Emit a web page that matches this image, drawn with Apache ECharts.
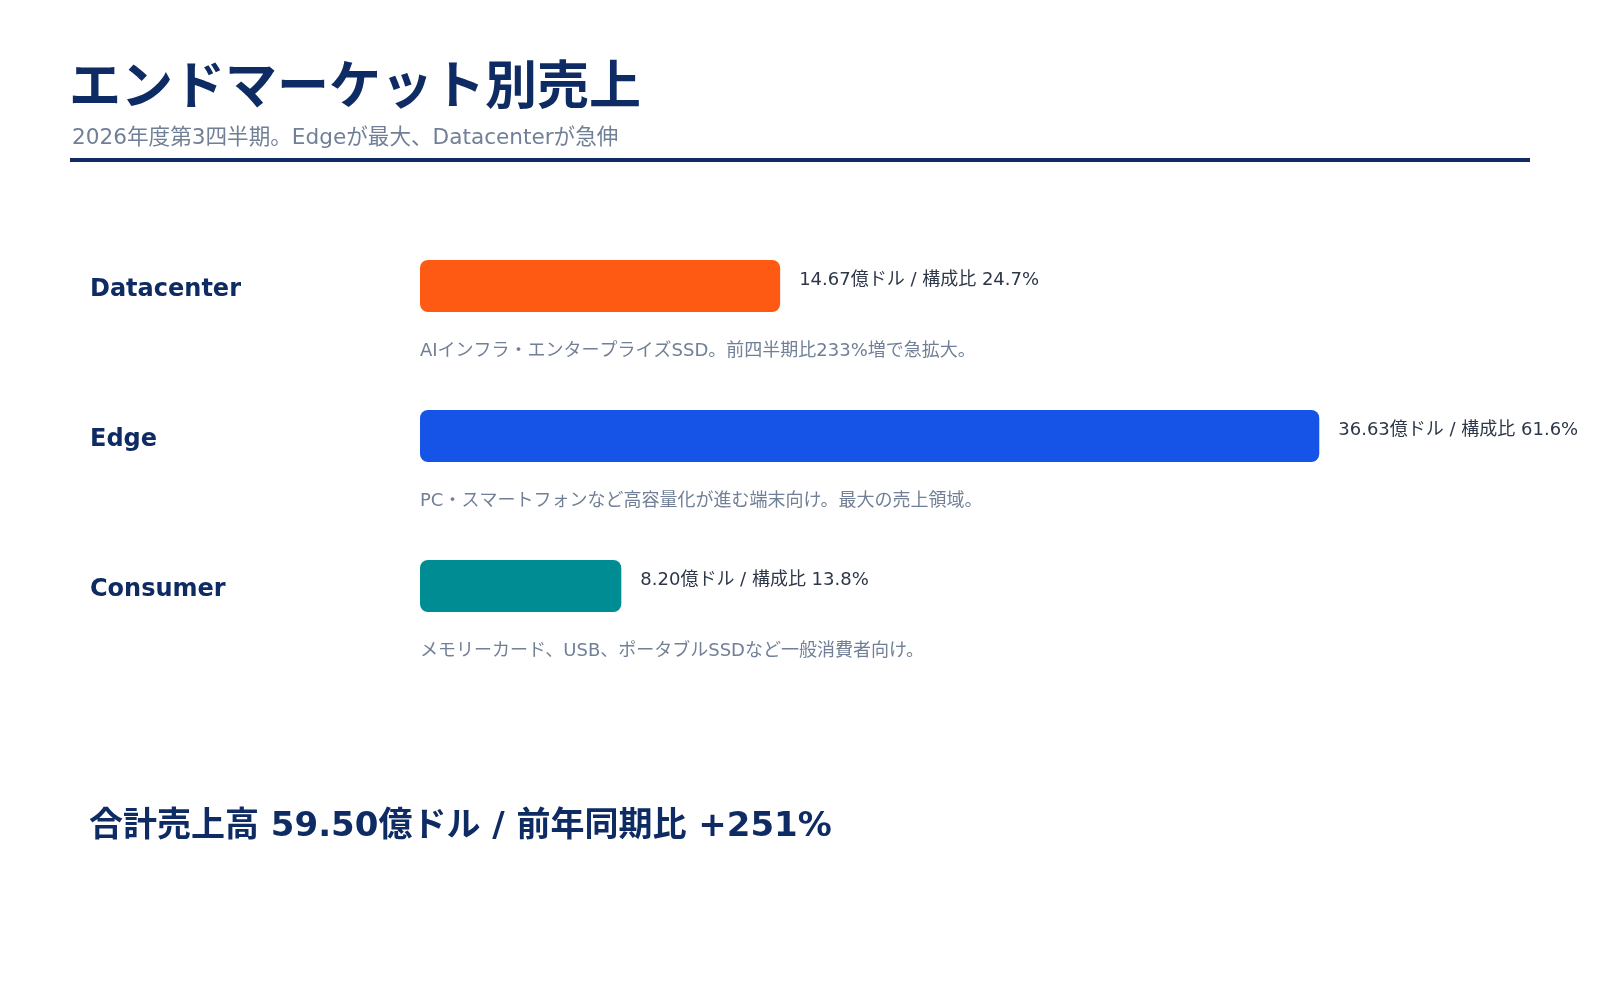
<!DOCTYPE html>
<html>
<head>
<meta charset="utf-8">
<script src="https://cdn.jsdelivr.net/npm/echarts@6/dist/echarts.min.js"></script>
<style>
  html, body { margin: 0; padding: 0; background: #fff; }
  #chart { width: 1600px; height: 1000px; }
</style>
</head>
<body>
<div id="chart"></div>
<script>
// data
const segments = ['Datacenter', 'Edge', 'Consumer'];
const revenue = [14.67, 36.63, 8.20];          // 億ドル
const shares = [24.7, 61.6, 13.8];             // 構成比 %
const notes = [
    'AIインフラ・エンタープライズSSD。前四半期比233%増で急拡大。',
    'PC・スマートフォンなど高容量化が進む端末向け。最大の売上領域。',
    'メモリーカード、USB、ポータブルSSDなど一般消費者向け。'
];
const barColors = ['#FF5A14', '#1554E6', '#008C93'];
const totalText = '合計売上高 59.50億ドル / 前年同期比 +251%';

const NAVY = '#0F2B63';
const GRAY = '#718096';
const FONT = "'DejaVu Sans', 'Noto Sans CJK JP', sans-serif";

function initializeChart() {
    return echarts.init(document.getElementById('chart'), null, {renderer: 'canvas'});
}

function drawChart(chart) {
    const option = {
        backgroundColor: '#ffffff',
        animation: false,
        textStyle: { fontFamily: FONT },
        title: [
            {
                text: 'エンドマーケット別売上',
                left: 64, top: 59,
                textStyle: { fontSize: 52, fontWeight: 'bold', color: NAVY, fontFamily: FONT }
            },
            {
                text: '2026年度第3四半期。Edgeが最大、Datacenterが急伸',
                left: 67, top: 123,
                textStyle: { fontSize: 21.6, fontWeight: 'normal', color: GRAY, fontFamily: FONT }
            },
            {
                text: totalText,
                left: 84, top: 805,
                textStyle: { fontSize: 34, fontWeight: 'bold', color: NAVY, fontFamily: FONT }
            }
        ],
        graphic: [{
            type: 'rect',
            shape: { x: 70, y: 158, width: 1460, height: 4 },
            style: { fill: NAVY }
        }],
        grid: { left: 420, top: 211, width: 982, height: 450, containLabel: false },
        xAxis: {
            type: 'value',
            min: 0,
            max: 40,
            show: false
        },
        yAxis: {
            type: 'category',
            data: segments,
            inverse: true,
            axisLine: { show: false },
            axisTick: { show: false },
            splitLine: { show: false },
            axisLabel: {
                align: 'left',
                verticalAlign: 'top',
                lineHeight: 8,
                margin: 330,
                fontSize: 24,
                fontWeight: 'bold',
                color: NAVY,
                fontFamily: FONT
            }
        },
        series: [
            {
                type: 'bar',
                barWidth: 52,
                data: revenue.map((v, i) => ({
                    value: v,
                    itemStyle: { color: barColors[i], borderRadius: 8 }
                })),
                label: {
                    show: true,
                    position: 'right',
                    distance: 19,
                    offset: [0, -6],
                    fontSize: 18,
                    color: '#2D3748',
                    fontFamily: FONT,
                    formatter: p => `${revenue[p.dataIndex].toFixed(2)}億ドル / 構成比 ${shares[p.dataIndex].toFixed(1)}%`
                }
            },
            {
                type: 'custom',
                silent: true,
                data: notes.map((n, i) => [0, i]),
                encode: { x: 0, y: 1 },
                renderItem: function (params, api) {
                    const pt = api.coord([0, api.value(1)]);
                    return {
                        type: 'text',
                        x: pt[0],
                        y: pt[1] + 65,
                        style: {
                            text: notes[params.dataIndex],
                            fontSize: 18,
                            fill: GRAY,
                            fontFamily: FONT,
                            verticalAlign: 'middle',
                            align: 'left'
                        }
                    };
                }
            }
        ]
    };
    chart.setOption(option);
}

const chart = initializeChart();
drawChart(chart);
</script>
</body>
</html>
